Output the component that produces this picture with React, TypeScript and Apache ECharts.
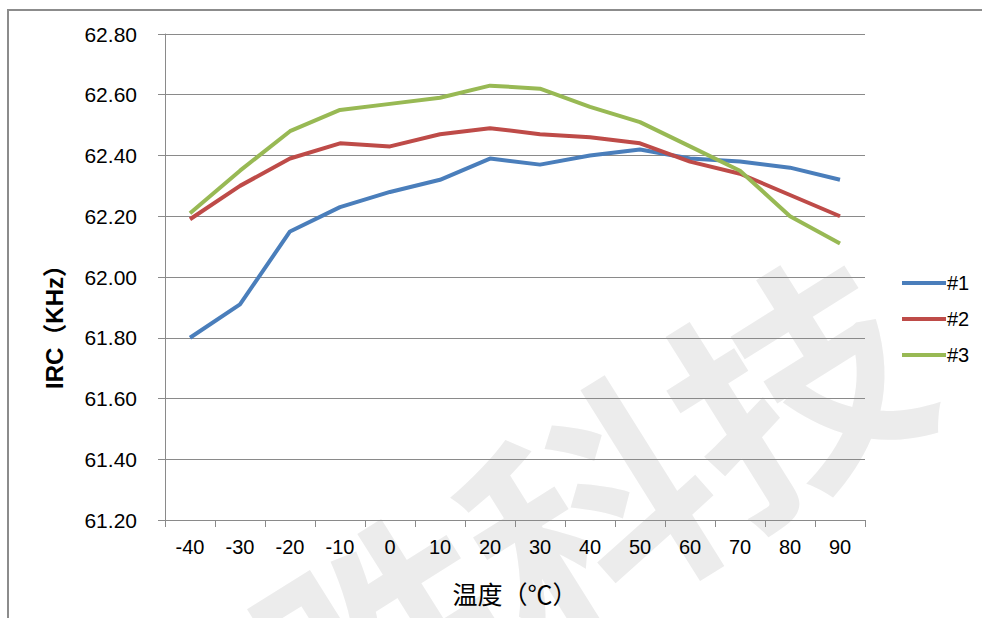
import React, { useEffect, useRef } from "react";
import * as echarts from "echarts";

const categories = ["-40", "-30", "-20", "-10", "0", "10", "20", "30", "40", "50", "60", "70", "80", "90"];
const s1 = [61.8, 61.91, 62.15, 62.23, 62.28, 62.32, 62.39, 62.37, 62.4, 62.42, 62.39, 62.38, 62.36, 62.32];
const s2 = [62.19, 62.3, 62.39, 62.44, 62.43, 62.47, 62.49, 62.47, 62.46, 62.44, 62.38, 62.34, 62.27, 62.2];
const s3 = [62.21, 62.35, 62.48, 62.55, 62.57, 62.59, 62.63, 62.62, 62.56, 62.51, 62.43, 62.35, 62.2, 62.11];
const seriesNames = ["#1", "#2", "#3"];
const colors = ["#4a7ebb", "#be4b48", "#98b954"];

export default function App() {
  const ref = useRef<HTMLDivElement>(null);
  useEffect(() => {
    if (!ref.current) return;
    const chart = echarts.init(ref.current, null, { renderer: "svg" });
    const mk = (name: string, data: number[], color: string) => ({
      name,
      type: "line",
      data,
      symbol: "none",
      z: 5,
      lineStyle: { color, width: 4 },
      itemStyle: { color },
    });
    chart.setOption({
      animation: false,
      backgroundColor: "#ffffff",
      graphic: [
        {
          type: "rect",
          z: -20,
          shape: { x: 8, y: 10, width: 1000, height: 700 },
          style: { fill: "none", stroke: "#8c8c8c", lineWidth: 2 },
        },
        {
          type: "text",
          z: -10,
          x: 585,
          y: 505,
          rotation: 0.56,
          style: {
            text: "胜科技",
            font: "bold 240px 'Noto Sans CJK SC'",
            fill: "#ececec",
            align: "center",
            verticalAlign: "middle",
          },
        },
        {
          type: "text",
          x: 54,
          y: 321,
          rotation: Math.PI / 2,
          style: {
            text: "IRC（KHz）",
            font: "bold 24px 'Liberation Sans', 'Noto Sans CJK SC'",
            fill: "#000",
            align: "center",
            verticalAlign: "middle",
          },
        },
      ],
      legend: {
        orient: "vertical",
        left: 897,
        top: 268,
        itemWidth: 44,
        itemHeight: 14,
        itemGap: 16,
        icon: "path://M0,5 L44,5 L44,9 L0,9 Z",
        textStyle: { fontFamily: "Liberation Sans", fontSize: 20, color: "#000", padding: [0, 0, 0, -4] },
        data: seriesNames.map((n, i) => ({ name: n, itemStyle: { color: colors[i] } })),
      },
      grid: { left: 165, top: 34, right: 117, bottom: 98 },
      xAxis: {
        type: "category",
        data: categories,
        boundaryGap: true,
        name: "温度（℃）",
        nameLocation: "middle",
        nameGap: 60,
        nameTextStyle: { fontFamily: "'Noto Sans CJK SC'", fontSize: 25, color: "#000" },
        axisLine: { lineStyle: { color: "#8a8a8a", width: 1 } },
        axisTick: { show: true, alignWithLabel: false, length: 7, lineStyle: { color: "#8a8a8a" } },
        axisLabel: { fontFamily: "Liberation Sans", fontSize: 20, color: "#000", margin: 17, interval: 0 },
      },
      yAxis: {
        type: "value",
        min: 61.2,
        max: 62.8,
        interval: 0.2,
        axisLine: { show: true, lineStyle: { color: "#8a8a8a", width: 1 } },
        axisTick: { show: true, length: 7, lineStyle: { color: "#8a8a8a" } },
        splitLine: { show: true, lineStyle: { color: "#8a8a8a", width: 1 } },
        axisLabel: {
          fontFamily: "Liberation Sans",
          fontSize: 21,
          color: "#000",
          margin: 28,
          formatter: (v: number) => v.toFixed(2),
        },
      },
      series: [mk(seriesNames[0], s1, colors[0]), mk(seriesNames[1], s2, colors[1]), mk(seriesNames[2], s3, colors[2])],
    });
    return () => chart.dispose();
  }, []);
  return <div ref={ref} style={{ position: "fixed", left: 0, top: 0, width: 982, height: 618 }} />;
}
